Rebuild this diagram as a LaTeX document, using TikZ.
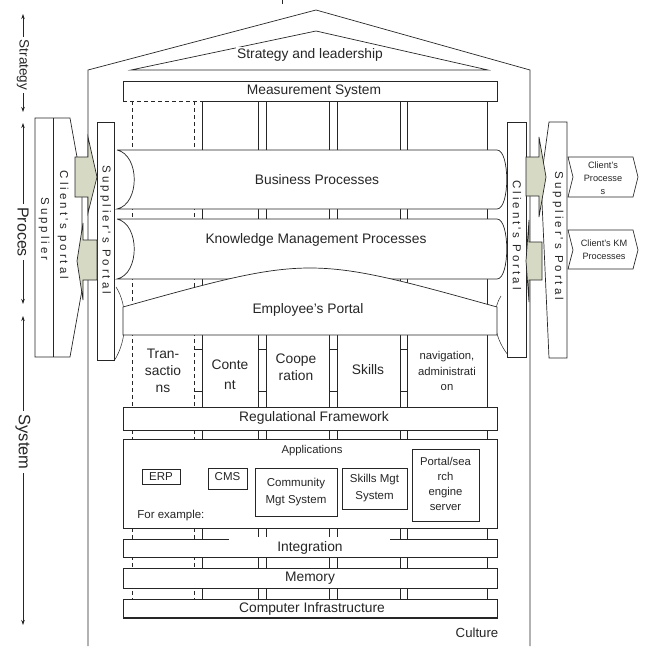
\documentclass[tikz,border=0pt]{standalone}
\usepackage{fontspec}
\setmainfont{Liberation Sans}
\newfontfamily\spacedfont[LetterSpace=26]{Liberation Sans}
\usetikzlibrary{arrows.meta}
\definecolor{arrowgreen}{RGB}{214,218,196}
\begin{document}
\begin{tikzpicture}[
        x = 1pt, y = -1pt,
        line width = .7pt,
        color = black!85,
        housebox/.style = {draw, fill = white},
        greenarrow/.style = {draw, fill = arrowgreen},
        colline/.style = {dash pattern = on 4pt off 3pt},
        bandtext/.style = {inner sep = 0pt, align = center, font = \fontsize{13.8}{17}\selectfont},
        smalltext/.style = {inner sep = 0pt, align = center, font = \fontsize{11.3}{15.3}\selectfont},
        apptext/.style = {inner sep = 0pt, align = center, font = \fontsize{11.5}{17}\selectfont},
        tinytext/.style = {inner sep = 0pt, align = center, font = \fontsize{9.2}{13}\selectfont},
        portaltext/.style = {inner sep = 0pt, rotate = -90, font = \spacedfont\fontsize{11.5}{14}\selectfont},
        axistext/.style = {inner sep = 3pt, rotate = -90},
        axis/.style = {-{Stealth[length = 5pt, width = 3.5pt]}}
    ]
        \useasboundingbox (0,0) rectangle (648,646);

        % columns of the house
        \foreach \cx in {202, 258, 266, 329, 337, 400, 407, 487}
            \draw (\cx,101) -- (\cx,599);
        \foreach \cx in {132, 194}
            \draw[colline] (\cx,101) -- (\cx,599);
        \foreach \cx in {194, 258, 329, 400}
            \foreach \ry in {349, 391}
                \draw (\cx,\ry) -- ++(8,0);

        % walls and roof
        \draw (88,646) -- (88,70) -- (316,10) -- (530,70) -- (530,646);
        \draw (131,70) -- (316,31) -- (488,70) -- cycle;
        \draw (282,0) -- (282,4);
        \node[bandtext, fill = white, inner sep = 1.5pt] (strategy) at (310,55) {Strategy and leadership};

        % measurement system
        \fill[white] (123,81) rectangle (497,101);
        \draw (202,101) -- (497,101) -- (497,81) -- (123,81) -- (123,101);
        \draw[colline] (123,101) -- (202,101);
        \node[bandtext] (measure) at (314,91) {Measurement System};

        % process bands
        \fill[white] (117,150) -- (497,150) .. controls (510,150) and (510,209) .. (497,209) -- (117,209) -- cycle;
        \draw (117,150) -- (497,150) .. controls (510,150) and (510,209) .. (497,209) -- (117,209) .. controls (140,204) and (140,155) .. (117,150);
        \node[bandtext] (business) at (317,180) {Business Processes};
        \fill[white] (117,219) -- (497,219) .. controls (510,219) and (510,279) .. (497,279) -- (117,279) -- cycle;
        \draw (117,219) -- (497,219) .. controls (510,219) and (510,279) .. (497,279) -- (117,279) .. controls (140,274) and (140,224) .. (117,219);
        \node[bandtext] (knowledge) at (316,240) {Knowledge Management Processes};

        % employee's portal
        \draw[line width = .5pt] (116,287) .. controls (128,305) and (128,340) .. (114,361);
        \draw[line width = .5pt] (501,296) .. controls (492,310) and (492,335) .. (508,355);
        \draw[housebox] (123,335) -- (123,307) .. controls (310,255) .. (497,307) -- (497,335) -- cycle;
        \node[bandtext] (employee) at (308,310) {Employee's Portal};

        % column contents
        \node[bandtext] (transactions) at (163,371) {Tran-\\sactio\\ns};
        \node[bandtext, font = \fontsize{13.8}{20}\selectfont] (content) at (230,375) {Conte\\nt};
        \node[bandtext] (cooperation) at (296,367) {Coope\\ration};
        \node[bandtext] (skills) at (368,370) {Skills};
        \node[smalltext] (navigation) at (447,371) {navigation,\\administrati\\on};

        % lower layers
        \draw[housebox] (123,407) rectangle (497,430);
        \node[bandtext] (regulation) at (314,418) {Regulational Framework};

        \draw[housebox] (123,439) rectangle (497,528);
        \node[smalltext] (applications) at (312,451) {Applications};
        \draw (142,469) rectangle (180,484);
        \node[apptext] (erp) at (161,476.5) {ERP};
        \draw (208,468) rectangle (247,489);
        \node[apptext] (cms) at (227.5,477) {CMS};
        \draw (255,468) rectangle (337,516);
        \node[apptext] (community) at (296,492) {Community\\Mgt System};
        \draw (342,468) rectangle (407,509);
        \node[apptext] (skillsmgt) at (374.5,488) {Skills Mgt\\System};
        \draw (412,449) rectangle (479,521);
        \node[apptext, font = \fontsize{11.3}{15.3}\selectfont] (portalserver) at (445.5,484) {Portal/sea\\rch\\engine\\server};
        \node[apptext, anchor = west] (example) at (137,516) {For example:};

        \draw[housebox] (123,539) rectangle (497,557);
        \fill[white] (229,537) rectangle (390,541.5);
        \node[bandtext] (integration) at (310,548) {Integration};
        \draw[housebox] (123,568) rectangle (497,588);
        \node[bandtext] (memory) at (310,578) {Memory};
        \draw[housebox] (123,599) rectangle (497,618);
        \draw[line width = 1.4pt] (123,618) -- (497,618);
        \node[bandtext] (infrastructure) at (312,609) {Computer Infrastructure};
        \node[bandtext, font = \fontsize{13.2}{16}\selectfont] (culture) at (477,633) {Culture};

        % supplier side
        \draw[housebox] (35,118) -- (70,118) -- (82,185) -- (82,290) -- (70,357) -- (35,357) -- cycle;
        \draw (53,118) -- (53,357);
        \node[portaltext] (supplier) at (44,229) {Supplier};
        \node[portaltext] (clientportalL) at (63,225) {Client's portal};
        \draw[housebox] (97,122) rectangle (114,360);
        \node[portaltext] (supplierportalL) at (105.5,230) {Supplier's Portal};
        \draw[greenarrow] (75,157) -- (88,157) -- (88,137) -- (97,177) -- (88,213) -- (88,197) -- (75,197) -- cycle;
        \draw[greenarrow] (97,240) -- (83,240) -- (83,223) -- (77,261) -- (83,300) -- (83,280) -- (97,280) -- cycle;

        % client side
        \draw[housebox] (507,122) rectangle (526,357);
        \node[portaltext] (clientportalR) at (517,235) {Client's Portal};
        \draw[housebox] (567,122) -- (549,122) -- (541,180) -- (549,358) -- (567,358) -- cycle;
        \node[portaltext] (supplierportalR) at (558,236) {Supplier's Portal};
        \draw[greenarrow] (526,157) -- (539,157) -- (539,137) -- (546,177) -- (539,217) -- (539,196) -- (526,196) -- cycle;
        \draw[greenarrow] (542,242) -- (529,242) -- (529,220) -- (526,261) -- (529,302) -- (529,280) -- (542,280) -- cycle;

        \draw[housebox] (568,157) -- (633,157) -- (638,177) -- (633,197) -- (568,197) -- (573,177) -- cycle;
        \node[tinytext] (clientproc) at (603,178) {Client's\\Processe\\s};
        \draw[housebox] (568,230) -- (633,230) -- (638,250) -- (633,269) -- (568,269) -- (573,250) -- cycle;
        \node[tinytext] (clientkm) at (604,250) {Client's KM\\Processes};

        % levels on the left
        \coordinate (strat-top) at (23,14);
        \coordinate (strat-bot) at (23,112);
        \coordinate (proc-top) at (23,123);
        \coordinate (proc-bot) at (23,304);
        \coordinate (sys-top) at (23,316);
        \coordinate (sys-bot) at (23,625);
        \node[axistext, font = \fontsize{13.5}{16}\selectfont] (strat) at (23,65) {Strategy};
        \node[axistext, font = \fontsize{16}{19}\selectfont] (proc) at (23,232) {Proces};
        \node[axistext, font = \fontsize{16.5}{19}\selectfont] (sys) at (23,442) {System};
        \draw[axis] (strat) -- (strat-top);
        \draw[axis] (strat) -- (strat-bot);
        \draw[axis] (proc) -- (proc-top);
        \draw[axis] (proc) -- (proc-bot);
        \draw[axis] (sys) -- (sys-top);
        \draw[axis] (sys) -- (sys-bot);
    \end{tikzpicture}
\end{document}
